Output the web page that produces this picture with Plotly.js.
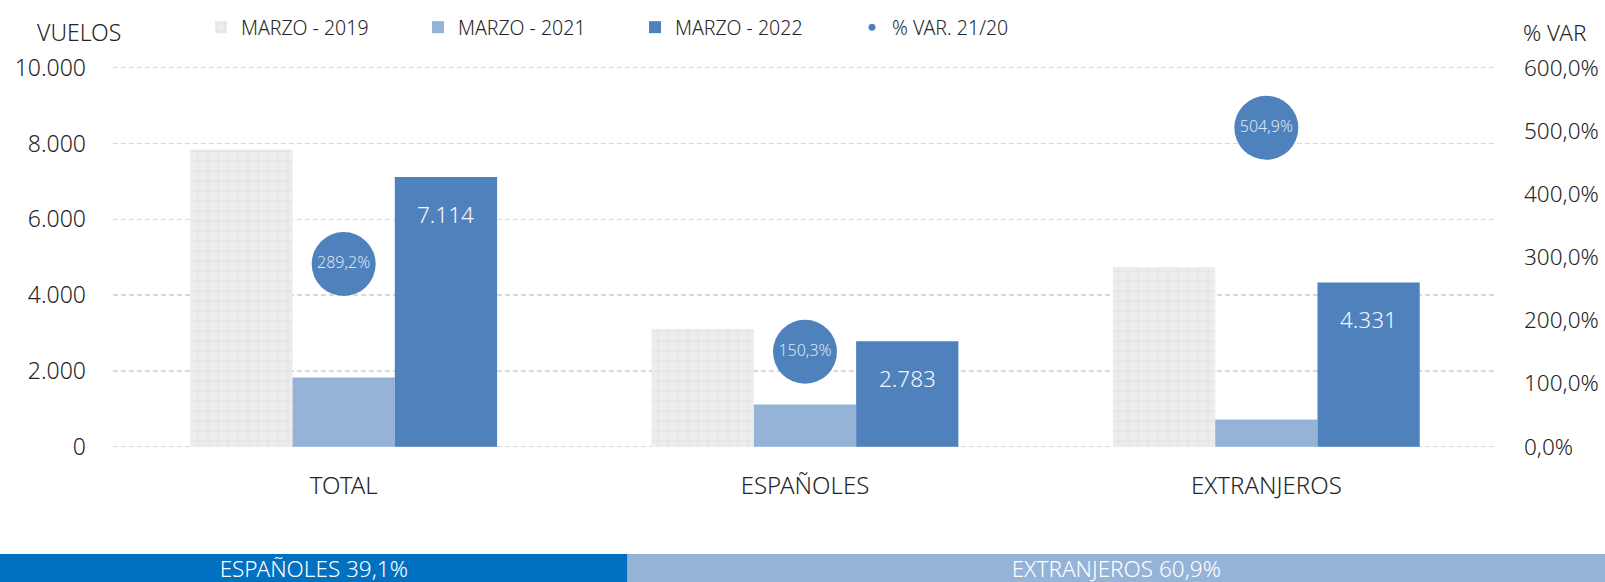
<!DOCTYPE html>
<html>
<head>
<meta charset="utf-8">
<script src="https://cdn.plot.ly/plotly-3.0.1.min.js"></script>
<style>
  html, body { margin: 0; padding: 0; background: #ffffff; }
  #chart { width: 1605px; height: 582px; }
</style>
</head>
<body>
<div id="chart"></div>
<script>
// ---- data ----
const categories = ['TOTAL', 'ESPAÑOLES', 'EXTRANJEROS'];
const seriesNames = ['MARZO - 2019', 'MARZO - 2021', 'MARZO - 2022'];
const vuelos2019 = [7840, 3105, 4735];
const vuelos2021 = [1828, 1112, 716];
const vuelos2022 = [7114, 2783, 4331];
const varName = '% VAR. 21/20';
const varPct = [289.2, 150.3, 504.9];
const shareNames = ['ESPAÑOLES', 'EXTRANJEROS'];
const sharePct = [39.1, 60.9];
const leftTicks = [0, 2000, 4000, 6000, 8000, 10000];
const rightTicks = [0, 100, 200, 300, 400, 500, 600];

// ---- helpers ----
const thousands = v => String(v).replace(/\B(?=(\d{3})+(?!\d))/g, '.');
const pct1 = v => v.toFixed(1).replace('.', ',') + '%';

const FONT = 'Noto Sans, sans-serif';
const WT = 300;
const TXT = '#262626';
const W = 1605, H = 582;
const plotL = 113, plotR = 1497, plotT = 67.7, plotB = 446.7;
const padFrac = 0.004; // small range padding so edge gridlines are kept
const padPx = (plotB - plotT) * padFrac;
const barPx = (plotR - plotL) / categories.length * (1 - 0.335) / 3;
const f = (size, color) => ({ family: FONT, size: size, color: color || TXT, weight: WT });

const lMax = leftTicks[leftTicks.length - 1], rMax = rightTicks[rightTicks.length - 1];

const traces = [
  {
    type: 'bar', name: seriesNames[0], x: categories, y: vuelos2019,
    marker: { color: '#ededed', line: { width: 0 },
      pattern: { shape: '+', bgcolor: '#ededed', fgcolor: '#d9d9d9', size: 10, solidity: 0.12 } },
    hoverinfo: 'skip'
  },
  {
    type: 'bar', name: seriesNames[1], x: categories, y: vuelos2021,
    marker: { color: '#95b3d7', line: { width: 0 } }, hoverinfo: 'skip'
  },
  {
    type: 'bar', name: seriesNames[2], x: categories, y: vuelos2022,
    marker: { color: '#4f81bd', line: { width: 0 } }, hoverinfo: 'skip'
  },
  {
    type: 'scatter', mode: 'markers+text', x: categories, y: varPct, yaxis: 'y2',
    text: varPct.map(pct1), textposition: 'middle center',
    textfont: f(16, '#dce6f2'),
    marker: { size: 64, color: '#4f81bd', line: { width: 0 } },
    showlegend: false, hoverinfo: 'skip', cliponaxis: false
  },
  {
    type: 'scatter', mode: 'markers', name: varName, x: [null], y: [null], yaxis: 'y2',
    marker: { size: 7, color: '#4f81bd' }, hoverinfo: 'skip'
  },
  {
    type: 'bar', orientation: 'h', xaxis: 'x2', yaxis: 'y3',
    y: shareNames.map(() => 'r'), x: sharePct,
    base: sharePct.map((v, i) => sharePct.slice(0, i).reduce((a, b) => a + b, 0)),
    width: shareNames.map(() => 1),
    marker: { color: ['#0070c0', '#95b3d7'], line: { width: 0 } },
    text: shareNames.map((n, i) => n + ' ' + pct1(sharePct[i])),
    textposition: 'inside', insidetextanchor: 'middle', constraintext: 'none',
    textfont: f(22.5, '#ffffff'),
    showlegend: false, hoverinfo: 'skip'
  }
];

const annotations = categories.map((c, i) => ({
  xref: 'x', yref: 'y', x: c, y: vuelos2022[i], xshift: barPx, yshift: -37,
  text: thousands(vuelos2022[i]), showarrow: false,
  font: f(22.5, '#f4f7fb')
}));
annotations.push({
  xref: 'paper', yref: 'paper', x: 78.5 / W, y: 1 - 32 / H, xanchor: 'center', yanchor: 'middle',
  text: 'VUELOS', showarrow: false, font: f(23)
});
annotations.push({
  xref: 'paper', yref: 'paper', x: 1554.5 / W, y: 1 - 32 / H, xanchor: 'center', yanchor: 'middle',
  text: '% VAR', showarrow: false, font: f(22.5)
});

const layout = {
  width: W, height: H,
  margin: { l: 0, r: 0, t: 0, b: 0, pad: 0 },
  paper_bgcolor: '#ffffff', plot_bgcolor: 'rgba(0,0,0,0)',
  font: { family: FONT, color: TXT, weight: WT },
  separators: ',.',
  barmode: 'group', bargap: 0.335, bargroupgap: 0,
  showlegend: true,
  legend: {
    orientation: 'h', x: 201 / W, xanchor: 'left', y: 1 - 8 / H, yanchor: 'top',
    font: f(19.5), entrywidth: 172,
    bgcolor: 'rgba(0,0,0,0)', traceorder: 'normal'
  },
  xaxis: {
    domain: [plotL / W, plotR / W], anchor: 'y', type: 'category',
    showgrid: false, zeroline: false, showline: false, ticks: '',
    tickfont: f(24), ticklabelstandoff: 21,
    fixedrange: true
  },
  yaxis: {
    domain: [1 - (plotB + padPx) / H, 1 - (plotT - padPx) / H], anchor: 'x',
    range: [-lMax * padFrac, lMax * (1 + padFrac)], tickvals: leftTicks, ticktext: leftTicks.map(thousands),
    showgrid: true, gridcolor: '#d9d9d9', gridwidth: 1.3, griddash: '5px,3px',
    zeroline: false, showline: false, ticks: '',
    tickfont: f(23), ticklabelstandoff: 26,
    fixedrange: true
  },
  yaxis2: {
    overlaying: 'y', side: 'right', anchor: 'x',
    range: [-rMax * padFrac, rMax * (1 + padFrac)], tickvals: rightTicks, ticktext: rightTicks.map(pct1),
    showgrid: false, zeroline: false, showline: false, ticks: '',
    tickfont: f(22.5), ticklabelstandoff: 26,
    fixedrange: true
  },
  xaxis2: {
    domain: [0, 1], anchor: 'y3', range: [0, 100],
    visible: false, fixedrange: true
  },
  yaxis3: {
    domain: [0, 28 / H], anchor: 'x2', type: 'category', range: [-0.5, 0.5],
    visible: false, fixedrange: true
  },
  annotations: annotations
};

Plotly.newPlot('chart', traces, layout, { displayModeBar: false, staticPlot: true });
</script>
</body>
</html>
